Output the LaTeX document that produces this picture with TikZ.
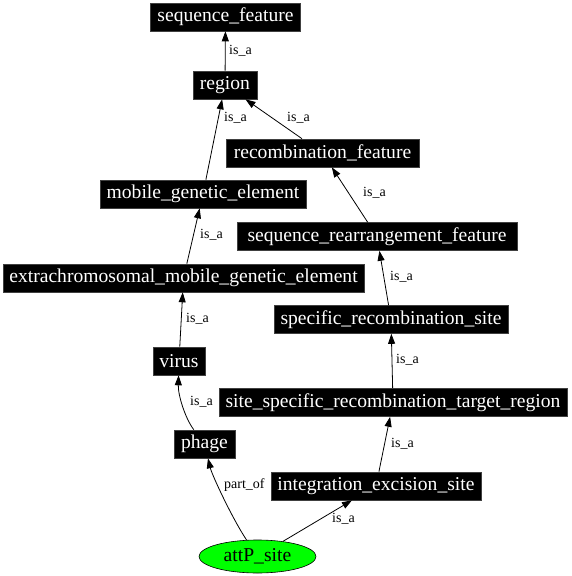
\documentclass[tikz,border=0pt]{standalone}
\usepackage{fontspec}
\setmainfont{Liberation Serif}
\usetikzlibrary{arrows.meta,shapes.geometric}
\begin{document}
\begin{tikzpicture}[x=1pt,y=-1pt,
  termbox/.style={fill=black,draw=black!75,line width=0.6pt,text=white,inner sep=0pt,
    minimum height=28pt,font=\fontsize{19.6}{22}\selectfont},
  sitebox/.style={ellipse,fill={rgb,255:red,0;green,255;blue,0},draw=black,line width=0.6pt,
    inner sep=0pt,minimum width=117pt,minimum height=33pt,font=\fontsize{19.6}{22}\selectfont},
  edgelbl/.style={anchor=west,inner sep=0pt,font=\fontsize{14}{16}\selectfont},
  rel/.style={draw=black,line width=0.8pt,-{Triangle[length=10pt,width=7pt]}}]
\useasboundingbox (0,0) rectangle (571,576);

\node[termbox,minimum width=150pt] (sf) at (225.5,17) {sequence\_feature};
\node[termbox,minimum width=64pt] (region) at (225,85) {region};
\node[termbox,minimum width=193pt] (recomb) at (322.5,153) {recombination\_feature};
\node[termbox,minimum width=206pt] (mge) at (203,194) {mobile\_genetic\_element};
\node[termbox,minimum width=280pt] (srf) at (377,236.5) {sequence\_rearrangement\_feature};
\node[termbox,minimum width=361pt] (emge) at (183.5,278) {extrachromosomal\_mobile\_genetic\_element};
\node[termbox,minimum width=234pt] (srs) at (391,319.5) {specific\_recombination\_site};
\node[termbox,minimum width=52pt] (virus) at (179,361) {virus};
\node[termbox,minimum width=348pt] (ssrtr) at (393,402.5) {site\_specific\_recombination\_target\_region};
\node[termbox,minimum width=61pt] (phage) at (204.5,444) {phage};
\node[termbox,minimum width=210pt] (ies) at (376,486) {integration\_excision\_site};
\node[sitebox] (attp) at (257.5,556.5) {attP\_site};

\draw[rel] (region) -- (sf);
\draw[rel] (mge) -- (region);
\draw[rel] (recomb) -- (region);
\draw[rel] (srf) -- (recomb);
\draw[rel] (emge) -- (mge);
\draw[rel] (virus) -- (emge);
\draw[rel] (srs) -- (srf);
\draw[rel] (ssrtr) -- (srs);
\draw[rel] (phage) .. controls (185,418) and (178,395) .. (virus);
\draw[rel] (ies) -- (ssrtr);
\draw[rel] (attp) .. controls (232,518) and (212,475) .. (phage);
\draw[rel] (attp) -- (ies);

\node[edgelbl] (l1) at (229,51) {is\_a};
\node[edgelbl] (l2) at (224,118) {is\_a};
\node[edgelbl] (l3) at (287,118) {is\_a};
\node[edgelbl] (l4) at (363,193) {is\_a};
\node[edgelbl] (l5) at (200,235) {is\_a};
\node[edgelbl] (l6) at (186,319) {is\_a};
\node[edgelbl] (l7) at (390,277) {is\_a};
\node[edgelbl] (l8) at (396,360) {is\_a};
\node[edgelbl] (l9) at (190,402) {is\_a};
\node[edgelbl] (l10) at (391,444) {is\_a};
\node[edgelbl] (l11) at (224,485) {part\_of};
\node[edgelbl] (l12) at (332,519) {is\_a};
\end{tikzpicture}
\end{document}
